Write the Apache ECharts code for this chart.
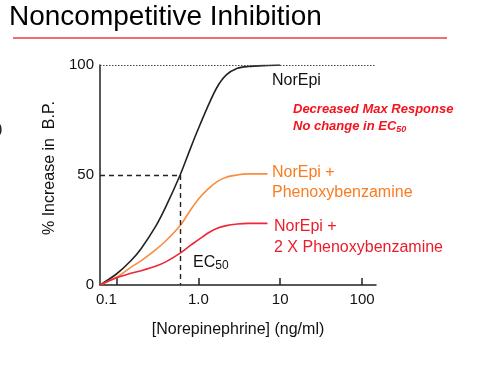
<!DOCTYPE html>
<html>
<head>
<meta charset="utf-8">
<script src="https://cdn.jsdelivr.net/npm/echarts@6/dist/echarts.min.js"></script>
<style>
  html, body { margin: 0; padding: 0; background: #fff; }
  #main { width: 482px; height: 376px; }
</style>
</head>
<body>
<div id="main"></div>
<script>
// norepinephrine concentration (ng/ml)
const conc = [0.063, 0.1, 0.15, 0.2, 0.3, 0.4, 0.6, 0.8, 1.0, 1.3, 1.7, 2.2, 3, 4, 7, 10];
// % increase in B.P.
const norEpi = [0, 5, 11, 16.5, 26.5, 35.5, 50, 62, 71, 81, 90, 95.5, 98.5, 99.3, 99.8, 100];
const phenoxy = [0, 3.5, 8, 11, 16, 20, 27, 34, 39, 43.5, 47, 49, 50, 50.5, 50.5];
const phenoxy2x = [0, 3.3, 5.3, 6.5, 8.5, 10.5, 14.5, 18, 20.5, 23.5, 25.8, 27, 27.7, 28, 28];

const xTicks = [0.1, 1, 10, 100];
const xTickLabels = ['0.1', '1.0', '10', '100'];
const xMin = 0.063;
const xMax = 148;
const ec50 = 0.6;

const font = "'Liberation Sans', Arial, Helvetica, sans-serif";
const black = '#222';
const orange = '#fb8c3c';
const red = '#ef2639';

function pairs (xs, ys) {
  return ys.map((y, i) => [xs[i], y]);
}

// label for a decade tick, whether the value comes raw or as log10
function decadeLabel (v) {
  let idx = xTicks.findIndex(t => Math.abs(Math.log10(t) - Math.log10(v)) < 0.01);
  if (idx < 0) idx = xTicks.findIndex(t => Math.abs(Math.log10(t) - v) < 0.01);
  if (idx < 0) return '';
  return idx === 0 ? '{l|' + xTickLabels[idx] + '}' : xTickLabels[idx];
}

const chart = echarts.init(document.getElementById('main'));

const option = {
  animation: false,
  backgroundColor: '#fff',
  textStyle: { fontFamily: font },
  title: {
    text: 'Noncompetitive Inhibition',
    left: 9,
    top: 3,
    padding: 0,
    textStyle: { fontSize: 28, fontWeight: 'normal', color: '#000', fontFamily: font }
  },
  grid: {
    left: 100,
    right: 106,
    top: 65,
    bottom: 91,
    outerBoundsMode: 'none'
  },
  xAxis: {
    type: 'log',
    min: xMin,
    max: xMax,
    name: '[Norepinephrine] (ng/ml)',
    nameLocation: 'middle',
    nameGap: 37,
    nameTextStyle: { fontSize: 16, color: '#111', fontFamily: font },
    axisLine: { lineStyle: { color: black, width: 1.5 } },
    axisTick: { inside: true, length: 7, customValues: xTicks, lineStyle: { color: black, width: 1.5 } },
    axisLabel: {
      customValues: xTicks,
      margin: 7,
      fontSize: 15,
      color: '#111',
      formatter: decadeLabel,
      rich: { l: { fontSize: 15, color: '#111', fontFamily: font, padding: [0, 20, 0, 0] } }
    },
    splitLine: { show: false }
  },
  yAxis: {
    type: 'value',
    min: 0,
    max: 100,
    interval: 50,
    name: '% Increase in  B.P.',
    nameLocation: 'middle',
    nameGap: 42,
    nameTextStyle: { fontSize: 16, color: '#111', fontFamily: font, padding: [0, 0, 0, 14] },
    axisLine: { show: true, lineStyle: { color: black, width: 1.5 } },
    axisTick: { show: false },
    axisLabel: { fontSize: 15, color: '#111', margin: 6 },
    splitLine: { show: false }
  },
  series: [
    {
      name: 'NorEpi',
      type: 'line',
      data: pairs(conc, norEpi),
      smooth: 0.3,
      showSymbol: false,
      lineStyle: { color: black, width: 1.6 },
      itemStyle: { color: black },
      markLine: {
        silent: true,
        symbol: ['none', 'none'],
        label: { show: false },
        lineStyle: { color: black, width: 1.4, type: [5, 4] },
        data: [
          [{ coord: [xMin, 50] }, { coord: [ec50, 50] }],
          [{ coord: [ec50, 50] }, { coord: [ec50, 0] }],
          { yAxis: 100, lineStyle: { color: '#444', width: 1, type: [1.5, 1.5] } }
        ]
      }
    },
    {
      name: 'NorEpi + Phenoxybenzamine',
      type: 'line',
      data: pairs(conc, phenoxy),
      smooth: 0.3,
      showSymbol: false,
      lineStyle: { color: orange, width: 1.6 },
      itemStyle: { color: orange }
    },
    {
      name: 'NorEpi + 2 X Phenoxybenzamine',
      type: 'line',
      data: pairs(conc, phenoxy2x),
      smooth: 0.3,
      showSymbol: false,
      lineStyle: { color: red, width: 1.6 },
      itemStyle: { color: red }
    }
  ],
  graphic: [
    // red underline under the slide title
    { type: 'line', shape: { x1: 13, y1: 38, x2: 447, y2: 38 }, style: { stroke: '#f26d6d', lineWidth: 2 } },
    // leftover bracket at the slide edge
    { type: 'text', left: -3, top: 121, style: { text: ')', fontSize: 17, fill: '#222', fontFamily: font } },
    {
      type: 'text', left: 272, top: 73,
      style: { text: 'NorEpi', fontSize: 16, fill: '#111', fontFamily: font }
    },
    {
      type: 'text', left: 272, top: 163,
      style: { text: 'NorEpi +\nPhenoxybenzamine', fontSize: 16, lineHeight: 20, fill: '#f97b22', fontFamily: font }
    },
    {
      type: 'text', left: 274, top: 216,
      style: { text: 'NorEpi +\n2 X Phenoxybenzamine', fontSize: 16, lineHeight: 21, fill: '#ec1c2a', fontFamily: font }
    },
    {
      type: 'text', left: 293, top: 103,
      style: {
        text: '{a|Decreased Max Response}\n{a|No change in EC}{s|50}',
        fontFamily: font,
        rich: {
          a: { fontSize: 13, fontWeight: 'bold', fontStyle: 'italic', fill: '#f2141e', color: '#f2141e', lineHeight: 17, fontFamily: font },
          s: { fontSize: 9, fontWeight: 'bold', fontStyle: 'italic', fill: '#f2141e', color: '#f2141e', lineHeight: 17, padding: [6, 0, 0, 0], fontFamily: font }
        }
      }
    },
    {
      type: 'text', left: 193, top: 253,
      style: {
        text: '{e|EC}{s|50}',
        fontFamily: font,
        rich: {
          e: { fontSize: 16, fill: '#111', color: '#111', lineHeight: 18, fontFamily: font },
          s: { fontSize: 12, fill: '#111', color: '#111', lineHeight: 18, padding: [7, 0, 0, 0], fontFamily: font }
        }
      }
    }
  ]
};

chart.setOption(option);
</script>
</body>
</html>
